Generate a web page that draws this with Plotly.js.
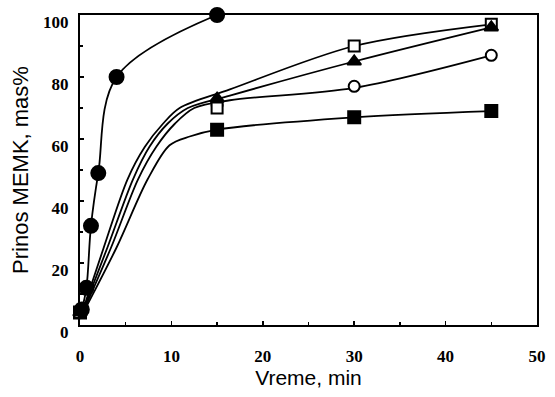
<!DOCTYPE html>
<html>
<head>
<meta charset="utf-8">
<script src="https://cdn.plot.ly/plotly-3.0.1.min.js"></script>
<style>html,body{margin:0;padding:0;background:#fff;}#chart{width:555px;height:397px;}</style>
</head>
<body>
<div id="chart"></div>
<script>
// Measured points
const circleTime = [0.2, 0.7, 1.2, 2, 4, 15];
const circleYield = [5, 12, 32, 49, 80, 100];

const time = [0, 15, 30, 45];
const openSquareYield = [4, 70, 90, 97];
const triangleYield = [4, 73, 85, 96];
const openCircleYield = [4, 71, 77, 87];
const filledSquareYield = [4, 63, 67, 69];

// Fitted curves
const openSquareFitX = [0, 2.6, 5.2, 7.1, 9.1, 10.9, 16.4, 30, 45];
const openSquareFitY = [2, 25, 47, 57.5, 65, 70, 76, 90, 97];
const triangleFitX = [0, 3.0, 5.8, 7.6, 9.6, 11.8, 16.4, 30, 45];
const triangleFitY = [2, 25, 47, 57.5, 65, 70, 74, 85, 96];
const openCircleFitX = [0, 3.4, 6.35, 8.35, 10.4, 12.5, 16.4, 30, 45];
const openCircleFitY = [2, 25, 47, 57.5, 65, 70, 72.5, 76.5, 87];
const filledSquareFitX = [0, 4.0, 7.4, 9.8, 12, 15, 30, 45];
const filledSquareFitY = [2, 25, 47, 58, 60.8, 63, 67, 69];

const xTicks = [0, 10, 20, 30, 40, 50];
const yTicks = [0, 20, 40, 60, 80, 100];

const lineStyle = {color: '#000', width: 1.8, shape: 'spline', smoothing: 0.9};

function fit(x, y) {
  return {x: x, y: y, mode: 'lines', line: lineStyle, cliponaxis: false, hoverinfo: 'skip', showlegend: false};
}
function pts(x, y, symbol, fill, size) {
  return {x: x, y: y, mode: 'markers', cliponaxis: false, showlegend: false,
    marker: {symbol: symbol, size: size, color: fill, line: {color: '#000', width: 2}}};
}

const data = [
  fit(filledSquareFitX, filledSquareFitY),
  fit(openCircleFitX, openCircleFitY),
  fit(triangleFitX, triangleFitY),
  fit(openSquareFitX, openSquareFitY),
  {x: circleTime, y: circleYield, mode: 'lines', line: {color: '#000', width: 1.8, shape: 'spline', smoothing: 1}, cliponaxis: false, showlegend: false},
  pts(time, filledSquareYield, 'square', '#000', 12),
  pts(time, openCircleYield, 'circle', '#fff', 11),
  pts(time, openSquareYield, 'square', '#fff', 11),
  pts(time, triangleYield, 'triangle-up', '#000', 12),
  pts(circleTime, circleYield, 'circle', '#000', 14)
];

const tickFont = {family: 'Liberation Serif, Times New Roman, serif', size: 17, color: '#000', weight: 'bold'};

const layout = {
  width: 555, height: 397,
  margin: {l: 80, r: 18, t: 15, b: 72},
  paper_bgcolor: '#fff', plot_bgcolor: '#fff',
  xaxis: {
    range: [0, 50], tickvals: xTicks, ticktext: xTicks.map(String),
    showgrid: false, zeroline: false, showline: true, mirror: true,
    linecolor: '#000', linewidth: 2, ticks: 'inside', ticklen: 4, tickwidth: 1.5, tickcolor: '#000',
    minor: {dtick: 5, ticks: 'inside', ticklen: 3, tickwidth: 1.5, tickcolor: '#000', showgrid: false},
    tickfont: tickFont, ticklabelstandoff: 15,
    title: {text: 'Vreme, min', font: {family: 'Liberation Sans, Arial, sans-serif', size: 21, color: '#000'}, standoff: 5}
  },
  yaxis: {
    range: [0, 100], tickvals: yTicks, ticktext: yTicks.map(String),
    showgrid: false, zeroline: false, showline: true, mirror: true,
    linecolor: '#000', linewidth: 2, ticks: 'inside', ticklen: 4, tickwidth: 1.5, tickcolor: '#000',
    minor: {dtick: 10, ticks: 'inside', ticklen: 3, tickwidth: 1.5, tickcolor: '#000', showgrid: false},
    tickfont: tickFont, ticklabelstandoff: 6, ticklabelshift: 7,
    title: {text: 'Prinos MEMK, mas%', font: {family: 'Liberation Sans, Arial, sans-serif', size: 22, color: '#000'}, standoff: 8}
  },
  showlegend: false
};

Plotly.newPlot('chart', data, layout, {staticPlot: true, displayModeBar: false});
</script>
</body>
</html>
